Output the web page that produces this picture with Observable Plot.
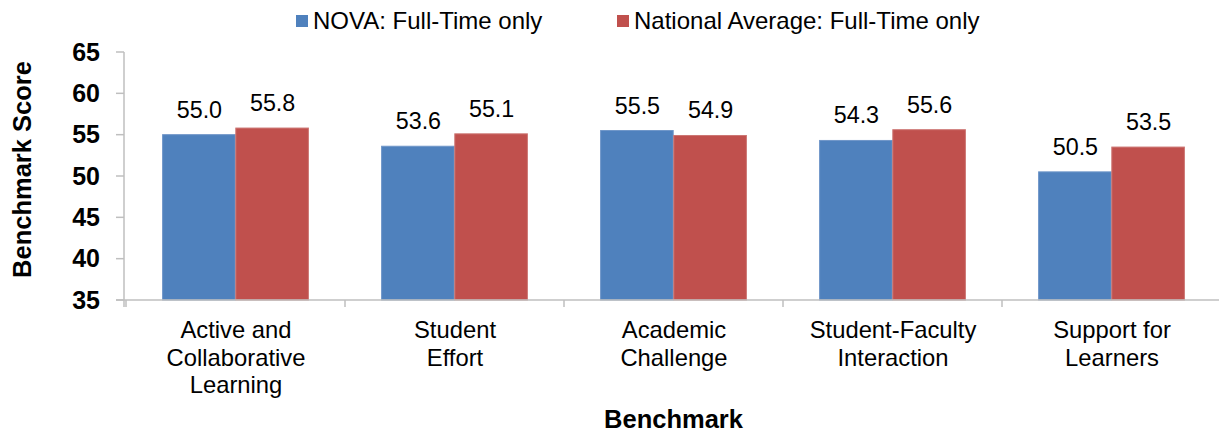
<!DOCTYPE html>
<html>
<head>
<meta charset="utf-8">
<script src="https://cdn.jsdelivr.net/npm/d3@7"></script>
<script src="https://cdn.jsdelivr.net/npm/@observablehq/plot@0.6"></script>
<style>
  html, body { margin: 0; padding: 0; background: #fff; overflow: hidden; }
  body { width: 1219px; height: 431px; position: relative; font-family: "Liberation Sans", Arial, sans-serif; }
  #legend { position: relative; height: 40px; width: 1219px; }
  .item { position: absolute; top: 7px; height: 28px; display: flex; align-items: center; font-size: 24px; color: #000; white-space: nowrap; }
  .sw { width: 12px; height: 12px; margin-right: 5px; display: inline-block; }
  #chart svg { overflow: visible; display: block; }
</style>
</head>
<body>
<div id="legend"></div>
<div id="chart"></div>
<script>
// ---- data ----
const categories = [
  "Active and\nCollaborative\nLearning",
  "Student\nEffort",
  "Academic\nChallenge",
  "Student-Faculty\nInteraction",
  "Support for\nLearners"
];
const seriesNames = ["NOVA: Full-Time only", "National Average: Full-Time only"];
const novaValues = [55.0, 53.6, 55.5, 54.3, 50.5];
const nationalValues = [55.8, 55.1, 54.9, 55.6, 53.5];
const yTicks = [35, 40, 45, 50, 55, 60, 65];
const colors = ["#4F81BD", "#C0504D"];
const strokes = ["#6f96c8", "#cc7673"];
const xTitle = "Benchmark";
const yTitle = "Benchmark Score";

// ---- layout ----
const width = 1219, height = 391;
const marginLeft = 124, marginRight = -3, marginTop = 12, marginBottom = 131;
const step = (width - marginLeft - marginRight) / categories.length;

const nova = categories.map((c, i) => ({cat: c, value: novaValues[i]}));
const national = categories.map((c, i) => ({cat: c, value: nationalValues[i]}));

// legend
const legend = document.getElementById("legend");
const legendLefts = [296, 617];
seriesNames.forEach((s, i) => {
  const el = document.createElement("div");
  el.className = "item";
  el.style.left = legendLefts[i] + "px";
  el.innerHTML = `<span class="sw" style="background:${colors[i]}"></span><span></span>`;
  el.lastChild.textContent = s;
  legend.appendChild(el);
});

const axisColor = "#bfbfbf";
function axes(index, scales, values, dimensions) {
  const x = scales.x, y = scales.y;
  const g = d3.create("svg:g");
  const y0 = y(yTicks[0]), y1 = y(yTicks[yTicks.length - 1]);
  const x0 = dimensions.marginLeft;
  const xEnd = dimensions.width - dimensions.marginRight;
  // y axis line
  g.append("line").attr("x1", x0).attr("x2", x0).attr("y1", y1).attr("y2", y0 + 7)
    .attr("stroke", axisColor).attr("stroke-width", 1.5);
  // y ticks and labels
  for (const t of yTicks) {
    g.append("line").attr("x1", x0 - 8).attr("x2", x0).attr("y1", y(t)).attr("y2", y(t))
      .attr("stroke", axisColor).attr("stroke-width", 1.5);
    g.append("text").attr("x", x0 - 24).attr("y", y(t)).attr("dy", "0.35em")
      .attr("text-anchor", "end").attr("font-weight", "bold").attr("font-size", 25)
      .attr("fill", "#000").text(t);
  }
  // x axis line
  g.append("line").attr("x1", x0 - 8).attr("x2", xEnd).attr("y1", y0).attr("y2", y0)
    .attr("stroke", axisColor).attr("stroke-width", 1.5);
  // x boundary ticks
  const bw = x.bandwidth ? x.bandwidth() : step;
  const bounds = categories.map(c => x(c)).concat([x(categories[categories.length - 1]) + bw]);
  for (const b of bounds) {
    g.append("line").attr("x1", b).attr("x2", b).attr("y1", y0).attr("y2", y0 + 7)
      .attr("stroke", axisColor).attr("stroke-width", 1.5);
  }
  return g.node();
}

const fontFamily = "Liberation Sans, Arial, sans-serif";
const plot = Plot.plot({
  width, height, marginLeft, marginRight, marginTop, marginBottom,
  style: {fontFamily, fontSize: "23px", background: "transparent", color: "#000"},
  x: {type: "band", domain: categories, paddingInner: 0, paddingOuter: 0, axis: null},
  y: {domain: [35, 65], axis: null},
  marks: [
    Plot.barY(nova, {x: "cat", y1: 35, y2: "value", fill: colors[0], stroke: strokes[0], strokeWidth: 1,
      insetLeft: step / 6, insetRight: step / 2}),
    Plot.barY(national, {x: "cat", y1: 35, y2: "value", fill: colors[1], stroke: strokes[1], strokeWidth: 1,
      insetLeft: step / 2, insetRight: step / 6}),
    axes,
    Plot.text(nova, {x: "cat", y: "value", text: d => d.value.toFixed(1), dx: -step / 6, dy: -25,
      fontSize: 23.3, fill: "#000"}),
    Plot.text(national, {x: "cat", y: "value", text: d => d.value.toFixed(1), dx: step / 6, dy: -25,
      fontSize: 23.3, fill: "#000"}),
    Plot.text(categories, {x: d => d, text: d => d, frameAnchor: "bottom", lineAnchor: "top",
      dy: 18, lineHeight: 1.16, fontSize: 23.8, fill: "#000"}),
    Plot.text([xTitle], {frameAnchor: "bottom", dy: 119, lineAnchor: "middle", fontWeight: "bold",
      fontSize: 25.5, fill: "#000"}),
    Plot.text([yTitle], {frameAnchor: "left", dx: -102, dy: -7, rotate: -90, textAnchor: "middle",
      lineAnchor: "middle", fontWeight: "bold", fontSize: 25.5, fill: "#000"})
  ]
});
document.getElementById("chart").appendChild(plot);
</script>
</body>
</html>
